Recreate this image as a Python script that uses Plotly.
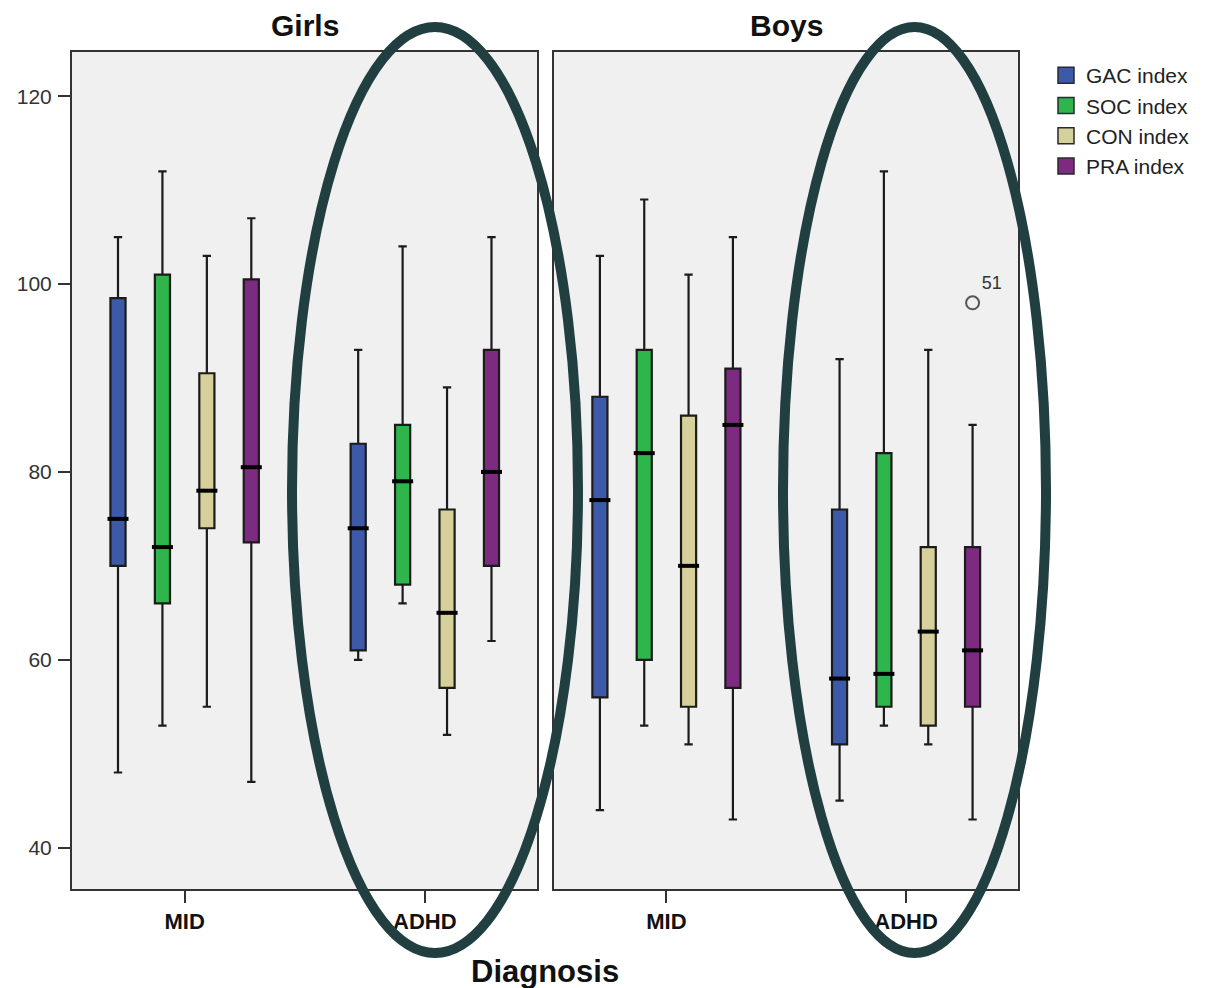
import plotly.graph_objects as go

# ---------------- data ----------------
panels = ["Girls", "Boys"]
categories = ["MID", "ADHD"]
series = ["GAC index", "SOC index", "CON index", "PRA index"]
colors = ["#3D5AA8", "#2EB54B", "#D6D19B", "#7C2B80"]

# order of values in every list: Girls MID, Girls ADHD, Boys MID, Boys ADHD
gac_low = [48, 60, 44, 45]
gac_q1 = [70, 61, 56, 51]
gac_med = [75, 74, 77, 58]
gac_q3 = [98.5, 83, 88, 76]
gac_high = [105, 93, 103, 92]

soc_low = [53, 66, 53, 53]
soc_q1 = [66, 68, 60, 55]
soc_med = [72, 79, 82, 58.5]
soc_q3 = [101, 85, 93, 82]
soc_high = [112, 104, 109, 112]

con_low = [55, 52, 51, 51]
con_q1 = [74, 57, 55, 53]
con_med = [78, 65, 70, 63]
con_q3 = [90.5, 76, 86, 72]
con_high = [103, 89, 101, 93]

pra_low = [47, 62, 43, 43]
pra_q1 = [72.5, 70, 57, 55]
pra_med = [80.5, 80, 85, 61]
pra_q3 = [100.5, 93, 91, 72]
pra_high = [107, 105, 105, 85]

outlier_panel = "Boys"
outlier_category = "ADHD"
outlier_series = "PRA index"
outlier_value = [98]
outlier_label = ["51"]

y_ticks = [40, 60, 80, 100, 120]

stats = {
    "GAC index": (gac_low, gac_q1, gac_med, gac_q3, gac_high),
    "SOC index": (soc_low, soc_q1, soc_med, soc_q3, soc_high),
    "CON index": (con_low, con_q1, con_med, con_q3, con_high),
    "PRA index": (pra_low, pra_q1, pra_med, pra_q3, pra_high),
}

# ---------------- layout helpers ----------------
spacing = 0.185
box_w = 0.063
cat_pos = list(range(len(categories)))


def offset(i):
    return (i - (len(series) - 1) / 2) * spacing


fig = go.Figure()
axis_ids = [("x", "y"), ("x2", "y2")]

for p, panel in enumerate(panels):
    xa, ya = axis_ids[p]
    for i, s in enumerate(series):
        low, q1, med, q3, high = stats[s]
        sl = slice(p * len(categories), (p + 1) * len(categories))
        xs = [c + offset(i) for c in cat_pos]
        fig.add_trace(go.Box(
            x=xs, q1=q1[sl], median=med[sl], q3=q3[sl],
            lowerfence=low[sl], upperfence=high[sl],
            width=box_w, whiskerwidth=0.55,
            fillcolor=colors[i], line=dict(color="#1b1b1b", width=2.2),
            boxpoints=False, showlegend=False, hoverinfo="skip",
            xaxis=xa, yaxis=ya, name=s,
        ))
        fig.add_trace(go.Scatter(
            x=xs, y=med[sl], mode="markers",
            marker=dict(symbol="line-ew", size=15,
                        line=dict(color="#000000", width=4)),
            showlegend=False, hoverinfo="skip", xaxis=xa, yaxis=ya,
        ))
    if panel == outlier_panel:
        ci = categories.index(outlier_category)
        si = series.index(outlier_series)
        fig.add_trace(go.Scatter(
            x=[cat_pos[ci] + offset(si)] * len(outlier_value), y=outlier_value,
            mode="markers+text", text=outlier_label, textposition="top right",
            textfont=dict(family="Liberation Sans, Arial", size=18, color="#333"),
            marker=dict(symbol="circle-open", size=13, color="#555555",
                        line=dict(color="#555555", width=2)),
            showlegend=False, hoverinfo="skip", xaxis=xa, yaxis=ya,
        ))

# legend entries (square swatches)
for i, s in enumerate(series):
    fig.add_trace(go.Scatter(
        x=[None], y=[None], mode="markers", name=s,
        marker=dict(symbol="square", size=18, color=colors[i],
                    line=dict(color="#2a2a2a", width=1.5)),
    ))

W, H = 1215, 988
def px_x(v):
    return v / W
def px_y(v):
    return 1 - v / H

xr = [-0.469, 1.467]
yr = [35.6, 124.7]
tickfont_x = dict(family="Liberation Sans Narrow, Arial Narrow, Liberation Sans, Arial",
                  size=22, color="#111")
common_x = dict(range=xr, tickvals=cat_pos, ticktext=[f"<b>{c}</b>" for c in categories],
                ticks="outside", ticklen=12, tickwidth=2, tickcolor="#333",
                ticklabelstandoff=0,
                showline=True, linecolor="#333", linewidth=2, mirror=True,
                showgrid=False, zeroline=False, tickfont=tickfont_x, fixedrange=True)

fig.update_layout(
    width=W, height=H,
    margin=dict(l=0, r=0, t=0, b=0),
    paper_bgcolor="white", plot_bgcolor="#F0F0F0",
    font=dict(family="Liberation Sans, Arial", color="#222"),
    xaxis=dict(domain=[px_x(72), px_x(537)], anchor="y", **common_x),
    xaxis2=dict(domain=[px_x(554), px_x(1018)], anchor="y2", **common_x),
    yaxis=dict(domain=[px_y(889), px_y(52)], range=yr, anchor="x",
               tickvals=y_ticks, ticks="outside", ticklen=12, tickwidth=2,
               tickcolor="#333", showline=True, linecolor="#333", linewidth=2,
               mirror=True, showgrid=False, zeroline=False, ticklabelstandoff=2,
               tickfont=dict(family="Liberation Sans, Arial", size=21, color="#333")),
    yaxis2=dict(domain=[px_y(889), px_y(52)], range=yr, anchor="x2", matches="y",
                showticklabels=False, ticks="", showline=True, linecolor="#333",
                linewidth=2, mirror=True, showgrid=False, zeroline=False),
    legend=dict(x=px_x(1046), y=px_y(55), xanchor="left", yanchor="top",
                font=dict(family="Liberation Sans, Arial", size=21, color="#222"),
                itemsizing="trace", tracegroupgap=0, bgcolor="rgba(0,0,0,0)",
                itemwidth=30),
    showlegend=True,
)

# panel titles and axis title
for p, panel in enumerate(panels):
    cx = [304.5, 786][p]
    fig.add_annotation(x=px_x(cx), y=px_y(26), xref="paper", yref="paper",
                       yanchor="middle", xanchor="center",
                       text=f"<b>{panel}</b>", showarrow=False,
                       font=dict(family="Liberation Sans, Arial", size=30, color="#111"))
fig.add_annotation(x=px_x(545), y=px_y(971), xref="paper", yref="paper",
                   yanchor="middle", xanchor="center",
                   text="<b>Diagnosis</b>", showarrow=False,
                   font=dict(family="Liberation Sans, Arial", size=31, color="#111"))

# highlight ellipses
for x0, x1 in [(292, 578), (783, 1046)]:
    fig.add_shape(type="circle", xref="paper", yref="paper",
                  x0=px_x(x0), x1=px_x(x1), y0=px_y(953), y1=px_y(27),
                  line=dict(color="#213F40", width=10), layer="above")

fig.write_html("out.html", config={"displayModeBar": False},
               post_script="document.body.style.margin='0';document.body.style.overflow='hidden';")
